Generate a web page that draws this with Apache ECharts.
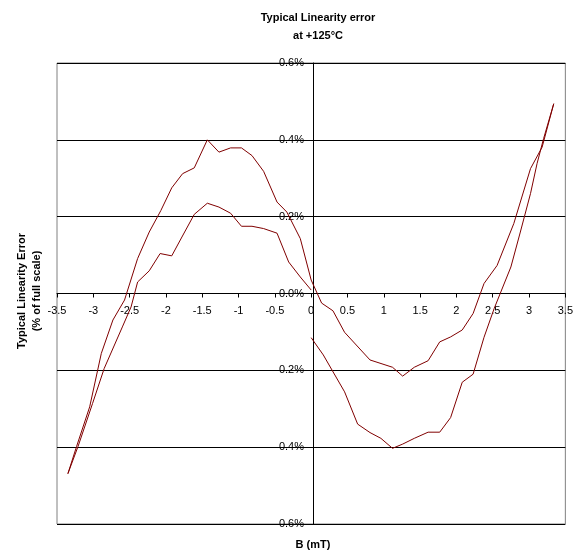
<!DOCTYPE html>
<html><head><meta charset="utf-8">
<script src="https://cdn.jsdelivr.net/npm/echarts@6/dist/echarts.min.js"></script>
<style>html,body{margin:0;padding:0;background:#fff}#c{width:576px;height:556px}</style>
</head><body><div id="c"></div>
<script>
// Curve 1: upper hump (left) continuing into upper valley (right)
const curve1X = [-3.35,-3.23,-3.05,-2.89,-2.73,-2.57,-2.39,-2.23,-2.07,-1.92,-1.77,-1.61,-1.43,-1.27,-1.11,-0.96,-0.815,-0.655,-0.47,-0.335,-0.15,0.0,0.144,0.30,0.46,0.81,1.12,1.26,1.42,1.61,1.77,1.92,2.08,2.23,2.38,2.56,2.79,3.02,3.18,3.34];
const curve1Y = [-0.469,-0.398,-0.295,-0.156,-0.069,-0.017,0.091,0.160,0.216,0.275,0.312,0.327,0.400,0.368,0.379,0.379,0.359,0.318,0.238,0.212,0.143,0.035,-0.025,-0.045,-0.101,-0.173,-0.192,-0.215,-0.192,-0.175,-0.126,-0.113,-0.095,-0.052,0.026,0.073,0.182,0.325,0.381,0.494];
// Curve 2 left part: lower hump
const curve2aX = [-3.35,-3.21,-3.01,-2.85,-2.60,-2.48,-2.39,-2.23,-2.08,-1.92,-1.78,-1.61,-1.43,-1.27,-1.11,-0.96,-0.815,-0.655,-0.47,-0.31,-0.15,0.0];
const curve2aY = [-0.469,-0.398,-0.286,-0.195,-0.087,-0.035,0.030,0.059,0.104,0.098,0.147,0.206,0.235,0.225,0.209,0.175,0.175,0.169,0.157,0.082,0.043,0.009];
// Curve 2 right part: lower valley
const curve2bX = [0.0,0.167,0.46,0.64,0.81,0.96,1.12,1.26,1.42,1.61,1.77,1.92,2.08,2.23,2.38,2.52,2.75,2.88,3.02,3.11,3.20,3.34];
const curve2bY = [-0.115,-0.160,-0.256,-0.340,-0.362,-0.377,-0.403,-0.392,-0.377,-0.361,-0.361,-0.323,-0.231,-0.210,-0.114,-0.039,0.069,0.160,0.260,0.338,0.403,0.494];
const yTicks = [-0.6,-0.4,-0.2,0,0.2,0.4,0.6];
const xMin = -3.5, xMax = 3.5;

const zip = (xs, ys) => xs.map((x, i) => [x, ys[i]]);
const curve2 = zip(curve2aX, curve2aY).concat([[0, '-']], zip(curve2bX, curve2bY));

const W = 576, H = 556;
const G = {left: 57, right: 7, top: 63, bottom: 32};
const gw = W - G.left - G.right, gh = H - G.top - G.bottom;
const yMin = yTicks[0], yMax = yTicks[yTicks.length - 1];
// place the axes through the origin (like Excel's crossing axes)
const yAxisOffset = -gw * (0 - xMin) / (xMax - xMin);
const xAxisOffset = -gh * (0 - yMin) / (yMax - yMin);

const chart = echarts.init(document.getElementById('c'), null, {renderer: 'canvas'});
const FONT = '"Liberation Sans", Arial, sans-serif';
const lineColor = '#800000';
chart.setOption({
  animation: false,
  backgroundColor: '#fff',
  title: {
    text: 'Typical Linearity error\nat +125°C',
    left: 313, top: 4, textAlign: 'center',
    textStyle: {fontFamily: FONT, fontSize: 11, fontWeight: 'bold', color: '#000', lineHeight: 18}
  },
  grid: Object.assign({show: true, borderColor: '#808080', borderWidth: 1, backgroundColor: 'transparent'}, G),
  xAxis: {
    type: 'value', min: xMin, max: xMax, interval: 0.5, position: 'bottom', offset: xAxisOffset,
    axisLine: {onZero: false, lineStyle: {color: '#000', width: 1}},
    axisTick: {show: true, length: 4, inside: false, lineStyle: {color: '#000'}},
    axisLabel: {fontFamily: FONT, fontSize: 11, color: '#000', margin: 12, formatter: v => String(+v.toFixed(1))},
    splitLine: {show: false}
  },
  yAxis: {
    type: 'value', min: yMin, max: yMax, interval: 0.2, position: 'left', offset: yAxisOffset,
    axisLine: {onZero: false, lineStyle: {color: '#000', width: 1}},
    axisTick: {show: true, length: 4, lineStyle: {color: '#000'}},
    axisLabel: {fontFamily: FONT, fontSize: 11, color: '#000', margin: 9, formatter: v => (Math.abs(v) < 1e-9 ? '0.0' : v.toFixed(1)) + '%'},
    splitLine: {show: true, lineStyle: {color: '#000', width: 1}}
  },
  graphic: [
    {type: 'text', position: [313, 539], style: {text: 'B (mT)', font: 'bold 11px ' + FONT, fill: '#000', textAlign: 'center'}},
    {type: 'text', rotation: Math.PI/2, position: [29, 291], style: {text: 'Typical Linearity Error\n(% of full scale)', font: 'bold 11px ' + FONT, fill: '#000', textAlign: 'center', textVerticalAlign: 'middle', lineHeight: 15}}
  ],
  series: [
    {type: 'line', data: zip(curve1X, curve1Y), showSymbol: false, symbol: 'none', lineStyle: {color: lineColor, width: 1}, z: 5},
    {type: 'line', data: curve2, showSymbol: false, symbol: 'none', connectNulls: false, lineStyle: {color: lineColor, width: 1}, z: 5}
  ]
});
</script>
</body></html>
